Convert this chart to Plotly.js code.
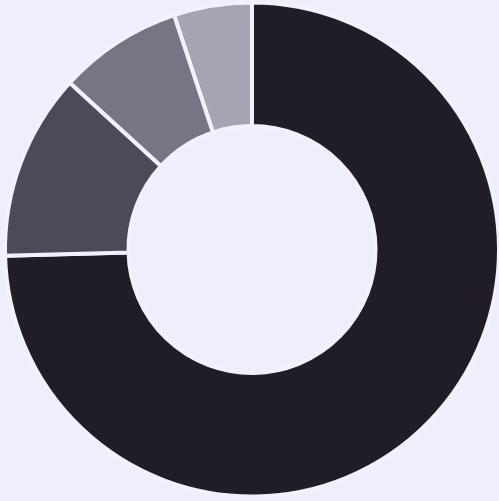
<!DOCTYPE html>
<html>
<head>
<meta charset="utf-8">
<script src="https://cdn.plot.ly/plotly-3.0.1.min.js"></script>
<style>
html,body{margin:0;padding:0;background:#efeffb;}
#chart{width:499px;height:501px;}
</style>
</head>
<body>
<div id="chart"></div>
<script>
var categories = ["A", "B", "C", "D"];
var values = [74.6, 12.2, 8.1, 5.1];
var colors = ["#211d27", "#4d4a57", "#777584", "#a6a4b0"];

Plotly.newPlot("chart", [{
  type: "pie",
  labels: categories,
  values: values,
  hole: 0.5,
  sort: false,
  direction: "clockwise",
  rotation: 0,
  textinfo: "none",
  hoverinfo: "none",
  marker: {colors: colors, line: {color: "#f1f1fc", width: 4}}
}], {
  width: 499,
  height: 501,
  margin: {l: 5, r: 0, t: 0, b: 2, pad: 0},
  showlegend: false,
  paper_bgcolor: "#efeffb",
  plot_bgcolor: "#efeffb"
}, {displayModeBar: false, staticPlot: true});
</script>
</body>
</html>
